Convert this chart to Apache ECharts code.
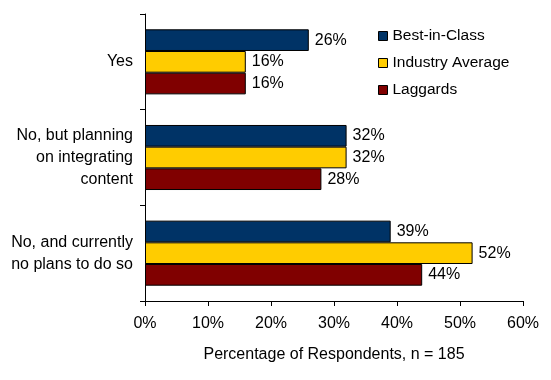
<!DOCTYPE html>
<html><head><meta charset="utf-8">
<script src="https://cdn.jsdelivr.net/npm/echarts@6/dist/echarts.min.js"></script>
<style>html,body{margin:0;padding:0;background:#fff}#c{width:551px;height:380px}</style>
</head><body><div id="c"></div>
<script>
var categories = ['Yes', 'No, but planning\non integrating\ncontent', 'No, and currently\nno plans to do so'];
var seriesNames = ['Best-in-Class', 'Industry Average', 'Laggards'];
var bestInClass = [26, 32, 39];
var industryAverage = [16, 32, 52];
var laggards = [16, 28, 44];
var colors = ['#003366', '#FFCC00', '#800000'];
var xTicks = [0, 10, 20, 30, 40, 50, 60];

var font = 'Liberation Sans, Arial, sans-serif';
var chart = echarts.init(document.getElementById('c'), null, {renderer: 'canvas'});
var datas = [bestInClass, industryAverage, laggards];
var series = seriesNames.map(function (n, i) {
  return {
    name: n, type: 'bar', data: datas[i],
    barGap: '0%', barCategoryGap: '32%',
    itemStyle: {color: colors[i], borderColor: '#000', borderWidth: 1},
    label: {show: true, position: 'right', distance: 6, formatter: '{c}%', color: '#000', fontSize: 16, fontFamily: font},
    animation: false
  };
});
chart.setOption({
  animation: false,
  textStyle: {fontFamily: font},
  grid: {left: 145, right: 28, top: 14, bottom: 79},
  legend: {
    orient: 'vertical', left: 373, top: 23, itemWidth: 9, itemHeight: 9, itemGap: 11,
    icon: 'rect',
    textStyle: {fontSize: 15.5, color: '#000', fontFamily: font},
    data: seriesNames,
    itemStyle: {borderColor: '#000', borderWidth: 1}
  },
  xAxis: {
    type: 'value', min: xTicks[0], max: xTicks[xTicks.length - 1], interval: 10,
    name: 'Percentage of Respondents, n = 185', nameLocation: 'middle', nameGap: 46,
    nameTextStyle: {fontSize: 16, color: '#000', fontFamily: font},
    axisLine: {show: true, lineStyle: {color: '#000', width: 1}},
    axisTick: {show: true, length: 5, lineStyle: {color: '#000'}},
    axisLabel: {formatter: '{value}%', fontSize: 16, color: '#000', margin: 15, fontFamily: font},
    splitLine: {show: false}
  },
  yAxis: {
    type: 'category', data: categories, inverse: true,
    axisLine: {show: true, lineStyle: {color: '#000', width: 1}},
    axisTick: {show: true, length: 5, lineStyle: {color: '#000'}},
    axisLabel: {fontSize: 16, color: '#000', margin: 12, lineHeight: 22, align: 'right', fontFamily: font}
  },
  series: series
});
</script></body></html>
